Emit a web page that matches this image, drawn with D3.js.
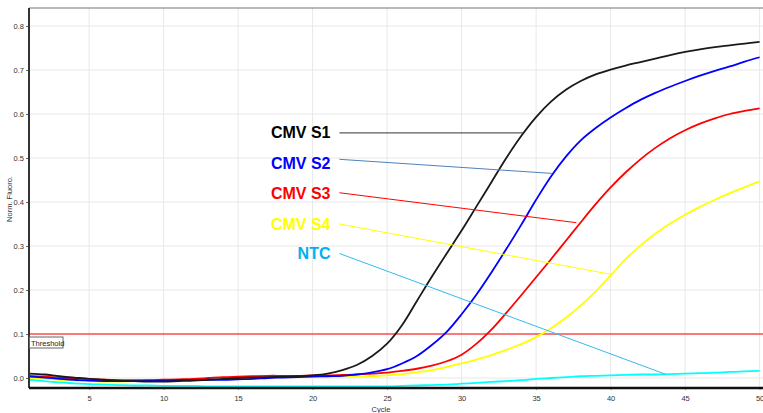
<!DOCTYPE html>
<html><head><meta charset="utf-8">
<script src="https://cdn.jsdelivr.net/npm/d3@7"></script>
<style>html,body{margin:0;padding:0;background:#fff;}svg{display:block;}</style>
</head><body>
<svg id="chart" width="763" height="413"></svg>
<script>
const cycles = d3.range(1, 51);
const s1 = [0.010,0.008,0.004,0.001,-0.002,-0.004,-0.006,-0.007,-0.008,-0.008,-0.007,-0.006,-0.004,-0.002,0.000,0.001,0.002,0.003,0.004,0.006,0.010,0.018,0.030,0.050,0.078,0.120,0.175,0.230,0.283,0.335,0.390,0.445,0.500,0.550,0.593,0.628,0.655,0.675,0.690,0.701,0.710,0.718,0.726,0.734,0.741,0.747,0.752,0.756,0.760,0.764];
const s2 = [0.003,0.001,-0.002,-0.004,-0.006,-0.007,-0.007,-0.007,-0.006,-0.006,-0.005,-0.005,-0.004,-0.004,-0.003,-0.002,0.000,0.001,0.002,0.003,0.004,0.005,0.008,0.013,0.020,0.033,0.050,0.075,0.105,0.145,0.190,0.240,0.293,0.348,0.405,0.458,0.503,0.540,0.568,0.592,0.613,0.632,0.648,0.662,0.675,0.687,0.698,0.708,0.719,0.729];
const s3 = [0.005,0.003,0.001,-0.001,-0.002,-0.004,-0.005,-0.005,-0.005,-0.004,-0.003,-0.002,0.000,0.002,0.003,0.004,0.005,0.005,0.005,0.006,0.006,0.007,0.008,0.010,0.012,0.016,0.021,0.028,0.038,0.053,0.078,0.110,0.148,0.188,0.229,0.270,0.312,0.354,0.395,0.433,0.467,0.497,0.523,0.545,0.563,0.578,0.590,0.600,0.607,0.613];
const s4 = [0.000,-0.002,-0.004,-0.006,-0.007,-0.008,-0.008,-0.007,-0.006,-0.006,-0.005,-0.004,-0.003,-0.002,-0.001,0.000,0.001,0.002,0.002,0.003,0.003,0.003,0.003,0.004,0.006,0.009,0.013,0.018,0.025,0.033,0.042,0.052,0.064,0.077,0.093,0.113,0.137,0.165,0.197,0.233,0.270,0.301,0.328,0.351,0.371,0.389,0.405,0.420,0.434,0.447];
const ntc = [-0.004,-0.007,-0.010,-0.012,-0.014,-0.015,-0.016,-0.017,-0.017,-0.018,-0.018,-0.018,-0.019,-0.019,-0.019,-0.019,-0.019,-0.019,-0.019,-0.019,-0.019,-0.019,-0.019,-0.019,-0.019,-0.018,-0.017,-0.016,-0.015,-0.013,-0.011,-0.009,-0.007,-0.005,-0.002,0.000,0.002,0.004,0.005,0.006,0.007,0.008,0.008,0.009,0.010,0.011,0.012,0.014,0.015,0.016];
const seriesNames = ["CMV S1","CMV S2","CMV S3","CMV S4","NTC"];
const seriesColors = ["#1a1a1a","#0000ff","#ff0000","#ffff00","#00ffff"];
const xTicks = [5,10,15,20,25,30,35,40,45,50];
const yTicks = [0.0,0.1,0.2,0.3,0.4,0.5,0.6,0.7,0.8];
const threshold = 0.1;
// annotation: label anchor (cycle,value) and target on curve (cycle,value)
const annoLabelCycle = [21.2,21.2,21.2,21.2,21.2];
const annoLabelValue = [0.557,0.488,0.420,0.349,0.282];
const annoStartValue = [0.557,0.497,0.421,0.350,0.283];
const annoEndCycle = [34.2,36.05,37.7,39.96,43.65];
const annoEndValue = [0.557,0.465,0.353,0.236,0.009];
const annoLineColors = ["#333333","#4f81bd","#ff0000","#ffff00","#33bbee"];
const annoTextColors = ["#000000","#0000ff","#ff0000","#ffff00","#00b0f0"];

(function(){
const svg = d3.select("#chart");
const pL = 29, pT = 8, pR = 763, pB = 388;
const x = d3.scaleLinear().domain([1,50]).range([29.5,759.6]);
const y = d3.scaleLinear().domain([0,0.8]).range([378,26]);
const FONT = "Liberation Sans, Arial, sans-serif";

svg.append("defs").append("clipPath").attr("id","clip")
  .append("rect").attr("x",pL).attr("y",pT).attr("width",pR-pL).attr("height",pB-pT);

// grid
const grid = svg.append("g");
grid.selectAll(".vg").data(xTicks).join("line")
  .attr("x1",d=>x(d)).attr("x2",d=>x(d)).attr("y1",pT).attr("y2",pB)
  .attr("stroke","#e8e8e8").attr("stroke-width",1);
grid.selectAll(".hg").data(yTicks).join("line")
  .attr("x1",pL).attr("x2",pR).attr("y1",d=>y(d)).attr("y2",d=>y(d))
  .attr("stroke","#e8e8e8").attr("stroke-width",1);

// axes
const yAxis = d3.axisLeft(y).tickValues(yTicks).tickFormat(d3.format(".1f")).tickSize(3).tickPadding(2);
const gy = svg.append("g").attr("transform",`translate(${pL},0)`).call(yAxis);
gy.select(".domain").remove();
gy.selectAll("text").attr("font-family",FONT).attr("font-size","7.5px").attr("fill","#333");
gy.selectAll("line").attr("stroke","#666");
const xAxis = d3.axisBottom(x).tickValues(xTicks).tickSize(2).tickPadding(6);
const gx = svg.append("g").attr("transform",`translate(0,${pB})`).call(xAxis);
gx.select(".domain").remove();
gx.selectAll("line").attr("stroke","#999");
gx.selectAll("text").attr("font-family",FONT).attr("font-size","7.5px").attr("fill","#333");

svg.append("text").attr("x",381).attr("y",412).attr("text-anchor","middle")
  .attr("font-family",FONT).attr("font-size","7.5px").attr("fill","#333").text("Cycle");
svg.append("text").attr("transform","translate(12,199) rotate(-90)").attr("text-anchor","middle")
  .attr("font-family",FONT).attr("font-size","7.5px").attr("fill","#333").text("Norm. Fluoro.");

const plot = svg.append("g").attr("clip-path","url(#clip)");
// threshold
plot.append("line").attr("x1",pL).attr("x2",pR).attr("y1",y(threshold)).attr("y2",y(threshold))
  .attr("stroke","#ff0000").attr("stroke-width",1);

// curves
const allSeries = [s1,s2,s3,s4,ntc];
const line = d3.line().x((d,i)=>x(cycles[i])).y(d=>y(d)).curve(d3.curveCatmullRom.alpha(0.5));
[4,3,2,1,0].forEach(k=>{
  plot.append("path").datum(allSeries[k]).attr("d",line)
    .attr("fill","none").attr("stroke",seriesColors[k]).attr("stroke-width",1.8);
});

// annotations
seriesNames.forEach((n,i)=>{
  plot.append("line")
    .attr("x1",x(annoLabelCycle[i])+9).attr("y1",y(annoStartValue[i]))
    .attr("x2",x(annoEndCycle[i])).attr("y2",y(annoEndValue[i]))
    .attr("stroke",annoLineColors[i]).attr("stroke-width",1);
  svg.append("text").attr("x",x(annoLabelCycle[i])).attr("y",y(annoLabelValue[i]))
    .attr("text-anchor","end").attr("dominant-baseline","central")
    .attr("font-family",FONT).attr("font-weight","bold").attr("font-size","16px")
    .attr("fill",annoTextColors[i]).text(n);
});

// frame
svg.append("line").attr("x1",pL).attr("x2",pR).attr("y1",pT).attr("y2",pT).attr("stroke","#777").attr("stroke-width",1.2);
svg.append("line").attr("x1",pL).attr("x2",pL).attr("y1",pT).attr("y2",pB).attr("stroke","#333").attr("stroke-width",2);
svg.append("line").attr("x1",pL).attr("x2",pR).attr("y1",pB).attr("y2",pB).attr("stroke","#111").attr("stroke-width",2.5);

// threshold label
const tg = svg.append("g");
tg.append("rect").attr("x",pL+0.5).attr("y",y(threshold)+3).attr("width",33.5).attr("height",11)
  .attr("fill","#fff").attr("stroke","#666").attr("stroke-width",1);
tg.append("text").attr("x",pL+2).attr("y",y(threshold)+11.5)
  .attr("font-family",FONT).attr("font-size","7.5px").attr("fill","#222").text("Threshold");
})();
</script>
</body></html>
